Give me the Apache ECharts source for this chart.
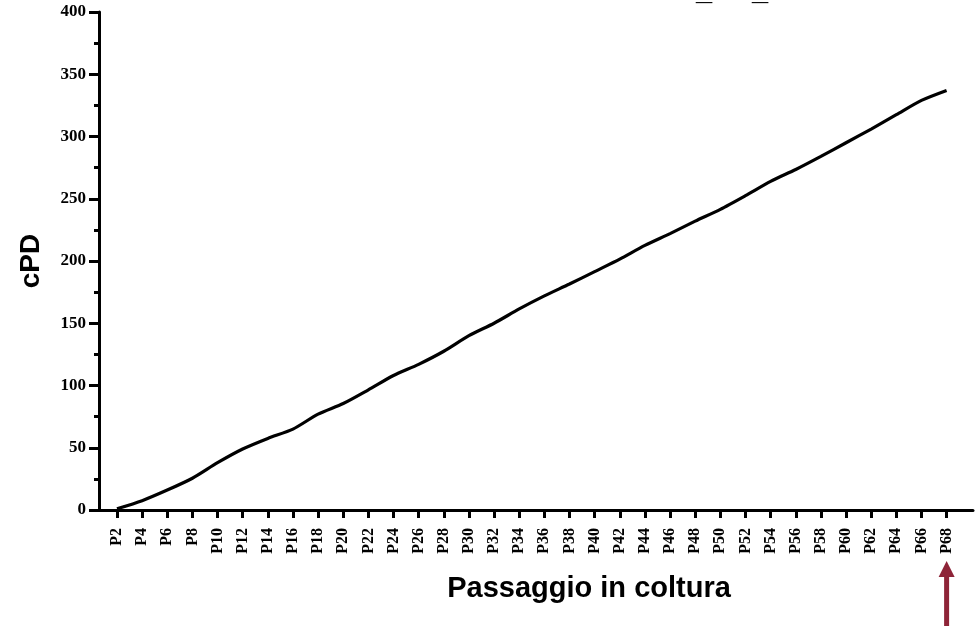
<!DOCTYPE html>
<html>
<head>
<meta charset="utf-8">
<script src="https://cdn.jsdelivr.net/npm/echarts@6/dist/echarts.min.js"></script>
<style>
  html, body { margin: 0; padding: 0; background: #fff; }
  #chart { width: 977px; height: 626px; }
</style>
</head>
<body>
<div id="chart"></div>
<script>
const tickLabels = ['P2','P4','P6','P8','P10','P12','P14','P16','P18','P20','P22','P24','P26','P28','P30','P32','P34','P36','P38','P40','P42','P44','P46','P48','P50','P52','P54','P56','P58','P60','P62','P64','P66','P68'];
const passages = [2,4,6,8,10,12,14,16,18,20,22,24,26,28,30,32,34,36,38,40,42,44,46,48,50,52,54,56,58,60,62,64,66,68];
const cpd = [1,7.5,16,25.5,38,49,57.5,65,77,85.5,96.5,108,117,127.5,140,150,161.5,172,181.5,191.5,201.5,212.5,222,232,241.5,252.5,264,273.5,284,295,306,317.5,329,337];
const yTicks = [0,50,100,150,200,250,300,350,400];

const chart = echarts.init(document.getElementById('chart'));
const black = '#000';
const arrowColor = '#8E2438';

chart.setOption({
  animation: false,
  backgroundColor: '#fff',
  grid: { left: 99, right: 4, top: 12, bottom: 116, containLabel: false },
  xAxis: {
    type: 'value',
    min: 0.57,
    max: 70.1,
    axisLine: { show: true, lineStyle: { color: black, width: 3 } },
    axisTick: { show: true, customValues: passages, length: 8, lineStyle: { color: black, width: 3 } },
    axisLabel: {
      show: true,
      customValues: passages,
      rotate: 90,
      margin: 18,
      formatter: v => tickLabels[passages.indexOf(v)],
      fontFamily: 'Liberation Serif',
      fontWeight: 'bold',
      fontSize: 16,
      color: black
    },
    splitLine: { show: false }
  },
  yAxis: {
    type: 'value',
    min: 0,
    max: 400,
    interval: 50,
    axisLine: { show: true, lineStyle: { color: black, width: 3 } },
    axisTick: { show: true, length: 10, lineStyle: { color: black, width: 3 } },
    minorTick: { show: true, splitNumber: 2, length: 5, lineStyle: { color: black, width: 3 } },
    axisLabel: {
      margin: 13,
      formatter: v => (yTicks.indexOf(v) >= 0 ? String(v) : ''),
      fontFamily: 'Liberation Serif',
      fontWeight: 'bold',
      fontSize: 17,
      color: black
    },
    splitLine: { show: false },
    minorSplitLine: { show: false }
  },
  series: [{
    type: 'line',
    data: passages.map((p, i) => [p, cpd[i]]),
    smooth: 0.25,
    symbol: 'none',
    lineStyle: { color: black, width: 3.2 },
    clip: false
  }]
});

const tip = chart.convertToPixel({ gridIndex: 0 }, [68, 0]);
const ax = tip[0];

// place the cut-off title's underscores so that only their lower part shows at the top edge
const titleFont = 'bold 28px "Liberation Sans"';
const mctx = document.createElement('canvas').getContext('2d');
mctx.font = titleFont;
mctx.textBaseline = 'middle';
const m = mctx.measureText('_');
const usY = 4 - (m.actualBoundingBoxDescent || 8);

chart.setOption({
  graphic: [
    {
      type: 'text', x: 31, y: 261, rotation: Math.PI / 2,
      style: { text: 'cPD', fontFamily: 'Liberation Sans', fontWeight: 'bold', fontSize: 28, fill: black, align: 'center', verticalAlign: 'middle' }
    },
    {
      type: 'text', x: 589, y: 589,
      style: { text: 'Passaggio in coltura', fontFamily: 'Liberation Sans', fontWeight: 'bold', fontSize: 29, fill: black, align: 'center', verticalAlign: 'middle' }
    },
    {
      type: 'text', x: 704, y: usY,
      style: { text: '_', fontFamily: 'Liberation Sans', fontWeight: 'bold', fontSize: 29, fill: black, align: 'center', verticalAlign: 'middle' }
    },
    {
      type: 'text', x: 760, y: usY,
      style: { text: '_', fontFamily: 'Liberation Sans', fontWeight: 'bold', fontSize: 29, fill: black, align: 'center', verticalAlign: 'middle' }
    },
    {
      type: 'polygon',
      shape: { points: [[ax, 561], [ax - 8, 577], [ax + 8, 577]] },
      style: { fill: arrowColor }
    },
    {
      type: 'rect',
      shape: { x: ax - 2.5, y: 575, width: 5, height: 55 },
      style: { fill: arrowColor }
    }
  ]
});
</script>
</body>
</html>
